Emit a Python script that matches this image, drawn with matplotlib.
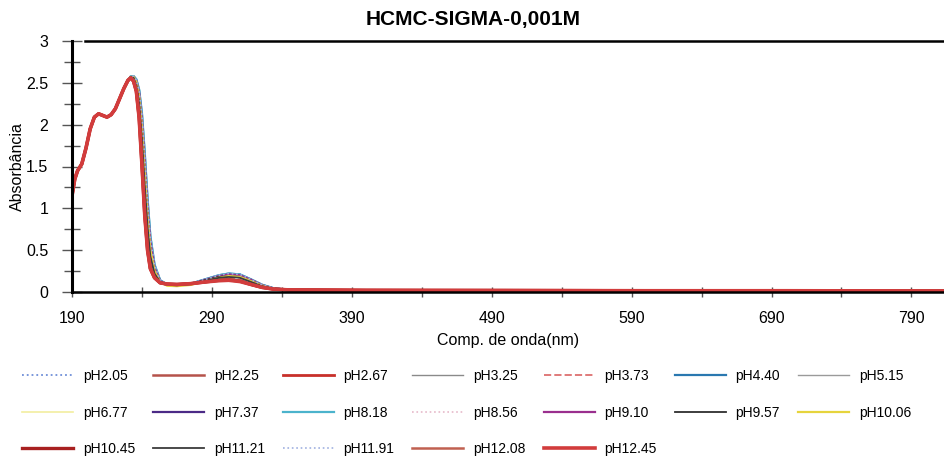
import matplotlib
matplotlib.use("Agg")
import numpy as np
import matplotlib.pyplot as plt
from matplotlib.ticker import FixedLocator

plt.rcParams['font.family'] = ['Liberation Sans', 'DejaVu Sans']

#wavelengths (nm): common part where all curves overlap, then the part where they split
wl_common = [190, 192, 194, 197, 200, 203, 206, 209, 212, 215, 218, 221, 224, 227]
abs_common = [1.15, 1.35, 1.45, 1.53, 1.72, 1.95, 2.09, 2.13, 2.11, 2.09, 2.12, 2.19, 2.31, 2.43]

wl_tail = [230, 232, 234, 236, 238, 240, 242, 244, 246, 249, 253, 258, 265, 275,
           285, 295, 302, 310, 318, 326, 334, 345, 400, 500, 600, 700, 815]

labels = ['pH2.05', 'pH2.25', 'pH2.67', 'pH3.25', 'pH3.73', 'pH4.40', 'pH5.15',
          'pH6.77', 'pH7.37', 'pH8.18', 'pH8.56', 'pH9.10', 'pH9.57', 'pH10.06',
          'pH10.45', 'pH11.21', 'pH11.91', 'pH12.08', 'pH12.45']

colors = ['#6f8fd8', '#b5524a', '#c8302a', '#8a8a8a', '#e07a7a', '#2a78b0', '#9a9a9a',
          '#f2eea0', '#4b2a86', '#4bb3cc', '#e6b9c9', '#9a2f8e', '#2e2e2e', '#e6d43c',
          '#a82020', '#3c3c3c', '#9fb0e0', '#c06050', '#d23c3c']
styles = [':', '-', '-', '-', '--', '-', '-',
          '-', '-', '-', ':', '-', '-', '-',
          '-', '-', ':', '-', '-']
widths = [1.3, 1.8, 2.0, 1.0, 1.4, 1.6, 1.0,
          1.2, 1.6, 1.6, 1.2, 1.6, 1.3, 1.6,
          2.4, 1.3, 1.2, 1.8, 2.6]

xticks = [190, 290, 390, 490, 590, 690, 790]
xminor = [240, 340, 440, 540, 640, 740]
yticks = [0, 0.5, 1, 1.5, 2, 2.5, 3]
yminor = [0.25, 0.75, 1.25, 1.75, 2.25, 2.75]
ytick_labels = ['0', '0.5', '1', '1.5', '2', '2.5', '3']

#absorbance after 227 nm, one list per pH
a_205 = [2.52, 2.57, 2.58, 2.53, 2.40, 2.10, 1.62, 1.08, 0.64, 0.31, 0.14, 0.09, 0.085, 0.10,
         0.15, 0.20, 0.22, 0.21, 0.15, 0.085, 0.045, 0.025, 0.02, 0.018, 0.015, 0.014, 0.012]
a_225 = [2.53, 2.56, 2.53, 2.42, 2.12, 1.58, 0.98, 0.55, 0.30, 0.18, 0.11, 0.09, 0.09, 0.10,
         0.12, 0.14, 0.145, 0.13, 0.09, 0.055, 0.035, 0.025, 0.02, 0.018, 0.015, 0.015, 0.012]
a_267 = [2.53, 2.56, 2.52, 2.40, 2.08, 1.52, 0.92, 0.50, 0.28, 0.17, 0.11, 0.095, 0.09, 0.10,
         0.12, 0.14, 0.145, 0.13, 0.09, 0.055, 0.035, 0.025, 0.02, 0.018, 0.015, 0.015, 0.012]
a_325 = [2.52, 2.57, 2.56, 2.49, 2.30, 1.88, 1.32, 0.82, 0.46, 0.23, 0.12, 0.085, 0.08, 0.095,
         0.14, 0.18, 0.19, 0.18, 0.13, 0.075, 0.04, 0.025, 0.02, 0.018, 0.015, 0.014, 0.012]
a_373 = [2.53, 2.56, 2.54, 2.44, 2.18, 1.66, 1.06, 0.60, 0.33, 0.19, 0.11, 0.09, 0.09, 0.10,
         0.13, 0.15, 0.16, 0.15, 0.10, 0.06, 0.036, 0.025, 0.02, 0.018, 0.015, 0.015, 0.012]
a_440 = [2.52, 2.57, 2.58, 2.54, 2.41, 2.12, 1.64, 1.10, 0.66, 0.32, 0.14, 0.09, 0.085, 0.10,
         0.15, 0.20, 0.22, 0.21, 0.15, 0.085, 0.045, 0.025, 0.02, 0.018, 0.015, 0.014, 0.012]
a_515 = [2.52, 2.57, 2.56, 2.50, 2.32, 1.92, 1.36, 0.85, 0.48, 0.24, 0.12, 0.085, 0.08, 0.095,
         0.14, 0.18, 0.19, 0.18, 0.13, 0.075, 0.04, 0.025, 0.02, 0.018, 0.015, 0.014, 0.012]
a_677 = [2.52, 2.57, 2.57, 2.51, 2.35, 1.98, 1.44, 0.92, 0.52, 0.26, 0.12, 0.08, 0.075, 0.09,
         0.14, 0.18, 0.20, 0.19, 0.14, 0.08, 0.042, 0.025, 0.02, 0.018, 0.015, 0.014, 0.012]
a_737 = [2.52, 2.57, 2.57, 2.52, 2.37, 2.03, 1.52, 0.99, 0.58, 0.28, 0.13, 0.085, 0.08, 0.095,
         0.145, 0.19, 0.21, 0.20, 0.145, 0.08, 0.043, 0.025, 0.02, 0.018, 0.015, 0.014, 0.012]
a_818 = [2.52, 2.58, 2.58, 2.54, 2.42, 2.14, 1.67, 1.12, 0.67, 0.33, 0.14, 0.09, 0.085, 0.10,
         0.15, 0.20, 0.22, 0.21, 0.15, 0.086, 0.045, 0.025, 0.02, 0.018, 0.015, 0.014, 0.012]
a_856 = [2.52, 2.57, 2.57, 2.52, 2.36, 2.00, 1.48, 0.96, 0.55, 0.27, 0.13, 0.085, 0.08, 0.095,
         0.14, 0.19, 0.20, 0.19, 0.14, 0.08, 0.042, 0.025, 0.02, 0.018, 0.015, 0.014, 0.012]
a_910 = [2.52, 2.57, 2.57, 2.52, 2.38, 2.05, 1.55, 1.01, 0.60, 0.29, 0.13, 0.085, 0.08, 0.095,
         0.145, 0.19, 0.21, 0.20, 0.145, 0.08, 0.043, 0.025, 0.02, 0.018, 0.015, 0.014, 0.012]
a_957 = [2.52, 2.57, 2.56, 2.49, 2.31, 1.90, 1.34, 0.84, 0.47, 0.24, 0.12, 0.085, 0.08, 0.095,
         0.14, 0.18, 0.19, 0.18, 0.13, 0.075, 0.04, 0.025, 0.02, 0.018, 0.015, 0.014, 0.012]
a_1006 = [2.52, 2.57, 2.57, 2.51, 2.34, 1.96, 1.42, 0.90, 0.51, 0.25, 0.12, 0.075, 0.07, 0.085,
          0.13, 0.17, 0.19, 0.18, 0.13, 0.075, 0.04, 0.025, 0.02, 0.018, 0.015, 0.014, 0.012]
a_1045 = [2.53, 2.56, 2.52, 2.40, 2.09, 1.53, 0.93, 0.51, 0.28, 0.17, 0.11, 0.095, 0.09, 0.10,
          0.12, 0.14, 0.145, 0.13, 0.09, 0.055, 0.035, 0.025, 0.02, 0.018, 0.015, 0.015, 0.012]
a_1121 = [2.52, 2.57, 2.56, 2.48, 2.28, 1.85, 1.28, 0.78, 0.43, 0.22, 0.12, 0.085, 0.08, 0.095,
          0.135, 0.17, 0.18, 0.17, 0.12, 0.07, 0.04, 0.025, 0.02, 0.018, 0.015, 0.014, 0.012]
a_1191 = [2.52, 2.57, 2.58, 2.53, 2.40, 2.11, 1.63, 1.09, 0.65, 0.32, 0.14, 0.09, 0.085, 0.10,
          0.15, 0.20, 0.22, 0.21, 0.15, 0.085, 0.045, 0.025, 0.02, 0.018, 0.015, 0.014, 0.012]
a_1208 = [2.53, 2.56, 2.53, 2.41, 2.10, 1.55, 0.95, 0.52, 0.29, 0.17, 0.11, 0.09, 0.09, 0.10,
          0.12, 0.14, 0.145, 0.13, 0.09, 0.055, 0.035, 0.025, 0.02, 0.018, 0.015, 0.015, 0.012]
a_1245 = [2.53, 2.56, 2.52, 2.40, 2.08, 1.52, 0.92, 0.50, 0.28, 0.17, 0.11, 0.095, 0.09, 0.10,
          0.12, 0.135, 0.14, 0.125, 0.09, 0.055, 0.035, 0.025, 0.02, 0.018, 0.015, 0.015, 0.012]

series = [a_205, a_225, a_267, a_325, a_373, a_440, a_515, a_677, a_737, a_818, a_856,
          a_910, a_957, a_1006, a_1045, a_1121, a_1191, a_1208, a_1245]

wl = wl_common + wl_tail

fig = plt.figure(figsize=(9.45, 4.59), dpi=100)
ax = fig.add_axes([72/945, 1-292/459, 1-72/945, 251/459])

handles = []
for lab, tail, c, ls, lw in zip(labels, series, colors, styles, widths):
    h, = ax.plot(wl, abs_common + tail, color=c, ls=ls, lw=lw, label=lab)
    handles.append(h)

ax.set_xlim(190, 814)
ax.set_ylim(0, 3)
ax.xaxis.set_major_locator(FixedLocator(xticks))
ax.xaxis.set_minor_locator(FixedLocator(xminor))
ax.set_xticklabels([str(t) for t in xticks])
ax.set_yticks(yticks)
ax.set_yticks(yminor, minor=True)
ax.set_yticklabels(ytick_labels)
ax.tick_params(which='both', direction='inout', color='#555555', width=1.0, labelsize=11.5)
ax.tick_params(axis='y', which='major', length=14, pad=10)
ax.tick_params(axis='y', which='minor', length=12)
ax.tick_params(axis='x', which='both', length=7, pad=10)

for s in ['left', 'bottom', 'top']:
    ax.spines[s].set_color('black')
ax.spines['left'].set_linewidth(2.2)
ax.spines['bottom'].set_linewidth(1.8)
ax.spines['top'].set_linewidth(1.8)
ax.spines['top'].set_bounds(199.3, 814)  # top line starts a bit right of the y axis
ax.spines['right'].set_visible(False)

ax.set_xlabel('Comp. de onda(nm)', fontsize=11.5, labelpad=5)
ax.set_ylabel('Absorbância', fontsize=11.5, labelpad=1)
fig.text(473/945, 1-19/459, 'HCMC-SIGMA-0,001M', ha='center', va='center',
         fontsize=15, fontweight='bold')

#reorder so the legend fills row by row
ncol = 7
order = []
for j in range(ncol):
    order += list(range(j, len(handles), ncol))
fig.legend([handles[i] for i in order], [labels[i] for i in order],
           ncol=ncol, loc='upper left', bbox_to_anchor=(22/945, 1-369/459),
           frameon=False, fontsize=10, handlelength=3.67, handletextpad=0.7,
           columnspacing=1.3, labelspacing=1.63, borderaxespad=0, borderpad=0)

fig.savefig('out.png', dpi=100)
